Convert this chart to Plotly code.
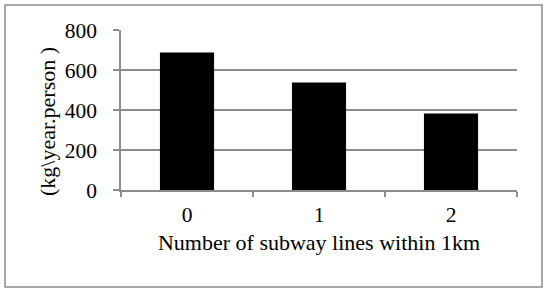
import plotly.graph_objects as go

categories = ["0", "1", "2"]
values = [688, 538, 383]
y_ticks = [0, 200, 400, 600, 800]

L, R, T, B = 121, 517, 30, 190
W, H = 550, 295
pw, ph = R - L, B - T

def px(x):
    return (x - L) / pw

def py(y):
    return (B - y) / ph

fig = go.Figure()
fig.add_trace(go.Bar(x=categories, y=values, marker=dict(color="black", line=dict(width=0)), width=0.41))

font = dict(family="Liberation Serif, Times New Roman, serif", size=21.5, color="black")
title_font = dict(family="Liberation Serif, Times New Roman, serif", size=22, color="black")
grey = "#8c8c8c"

fig.update_layout(
    width=W, height=H,
    margin=dict(l=L, r=W - R, t=T, b=H - B),
    paper_bgcolor="white", plot_bgcolor="white",
    showlegend=False,
    font=font,
)
fig.update_xaxes(
    type="category", showline=True, linecolor=grey, linewidth=1.5,
    ticks="outside", ticklen=5, tickcolor=grey, tickwidth=1.5, ticklabelstandoff=4,
    tickson="boundaries", showgrid=False, tickfont=font,
    title=dict(text="Number of subway lines within 1km", font=title_font, standoff=9),
)
fig.update_yaxes(
    range=[0, 800], tickvals=y_ticks, showline=True, linecolor=grey, linewidth=1.5,
    ticks="outside", ticklen=6, tickcolor=grey, tickwidth=1.5, ticklabelstandoff=12,
    showgrid=True, gridcolor=grey, gridwidth=1.5, tickfont=font, zeroline=False,
)
fig.add_annotation(
    text="(kg\\year.person )",
    textangle=-90, xref="paper", yref="paper",
    x=px(47), y=py(122), showarrow=False,
    font=dict(family="Liberation Serif, Times New Roman, serif", size=22, color="black"),
    xanchor="center", yanchor="middle",
)
fig.add_shape(
    type="rect", xref="paper", yref="paper",
    x0=px(5), x1=px(542), y0=py(287), y1=py(5),
    line=dict(color=grey, width=1.5), fillcolor="rgba(0,0,0,0)", layer="below",
)
fig.write_html("out.html", config={"displayModeBar": False},
               post_script="document.body.style.margin='0';")
